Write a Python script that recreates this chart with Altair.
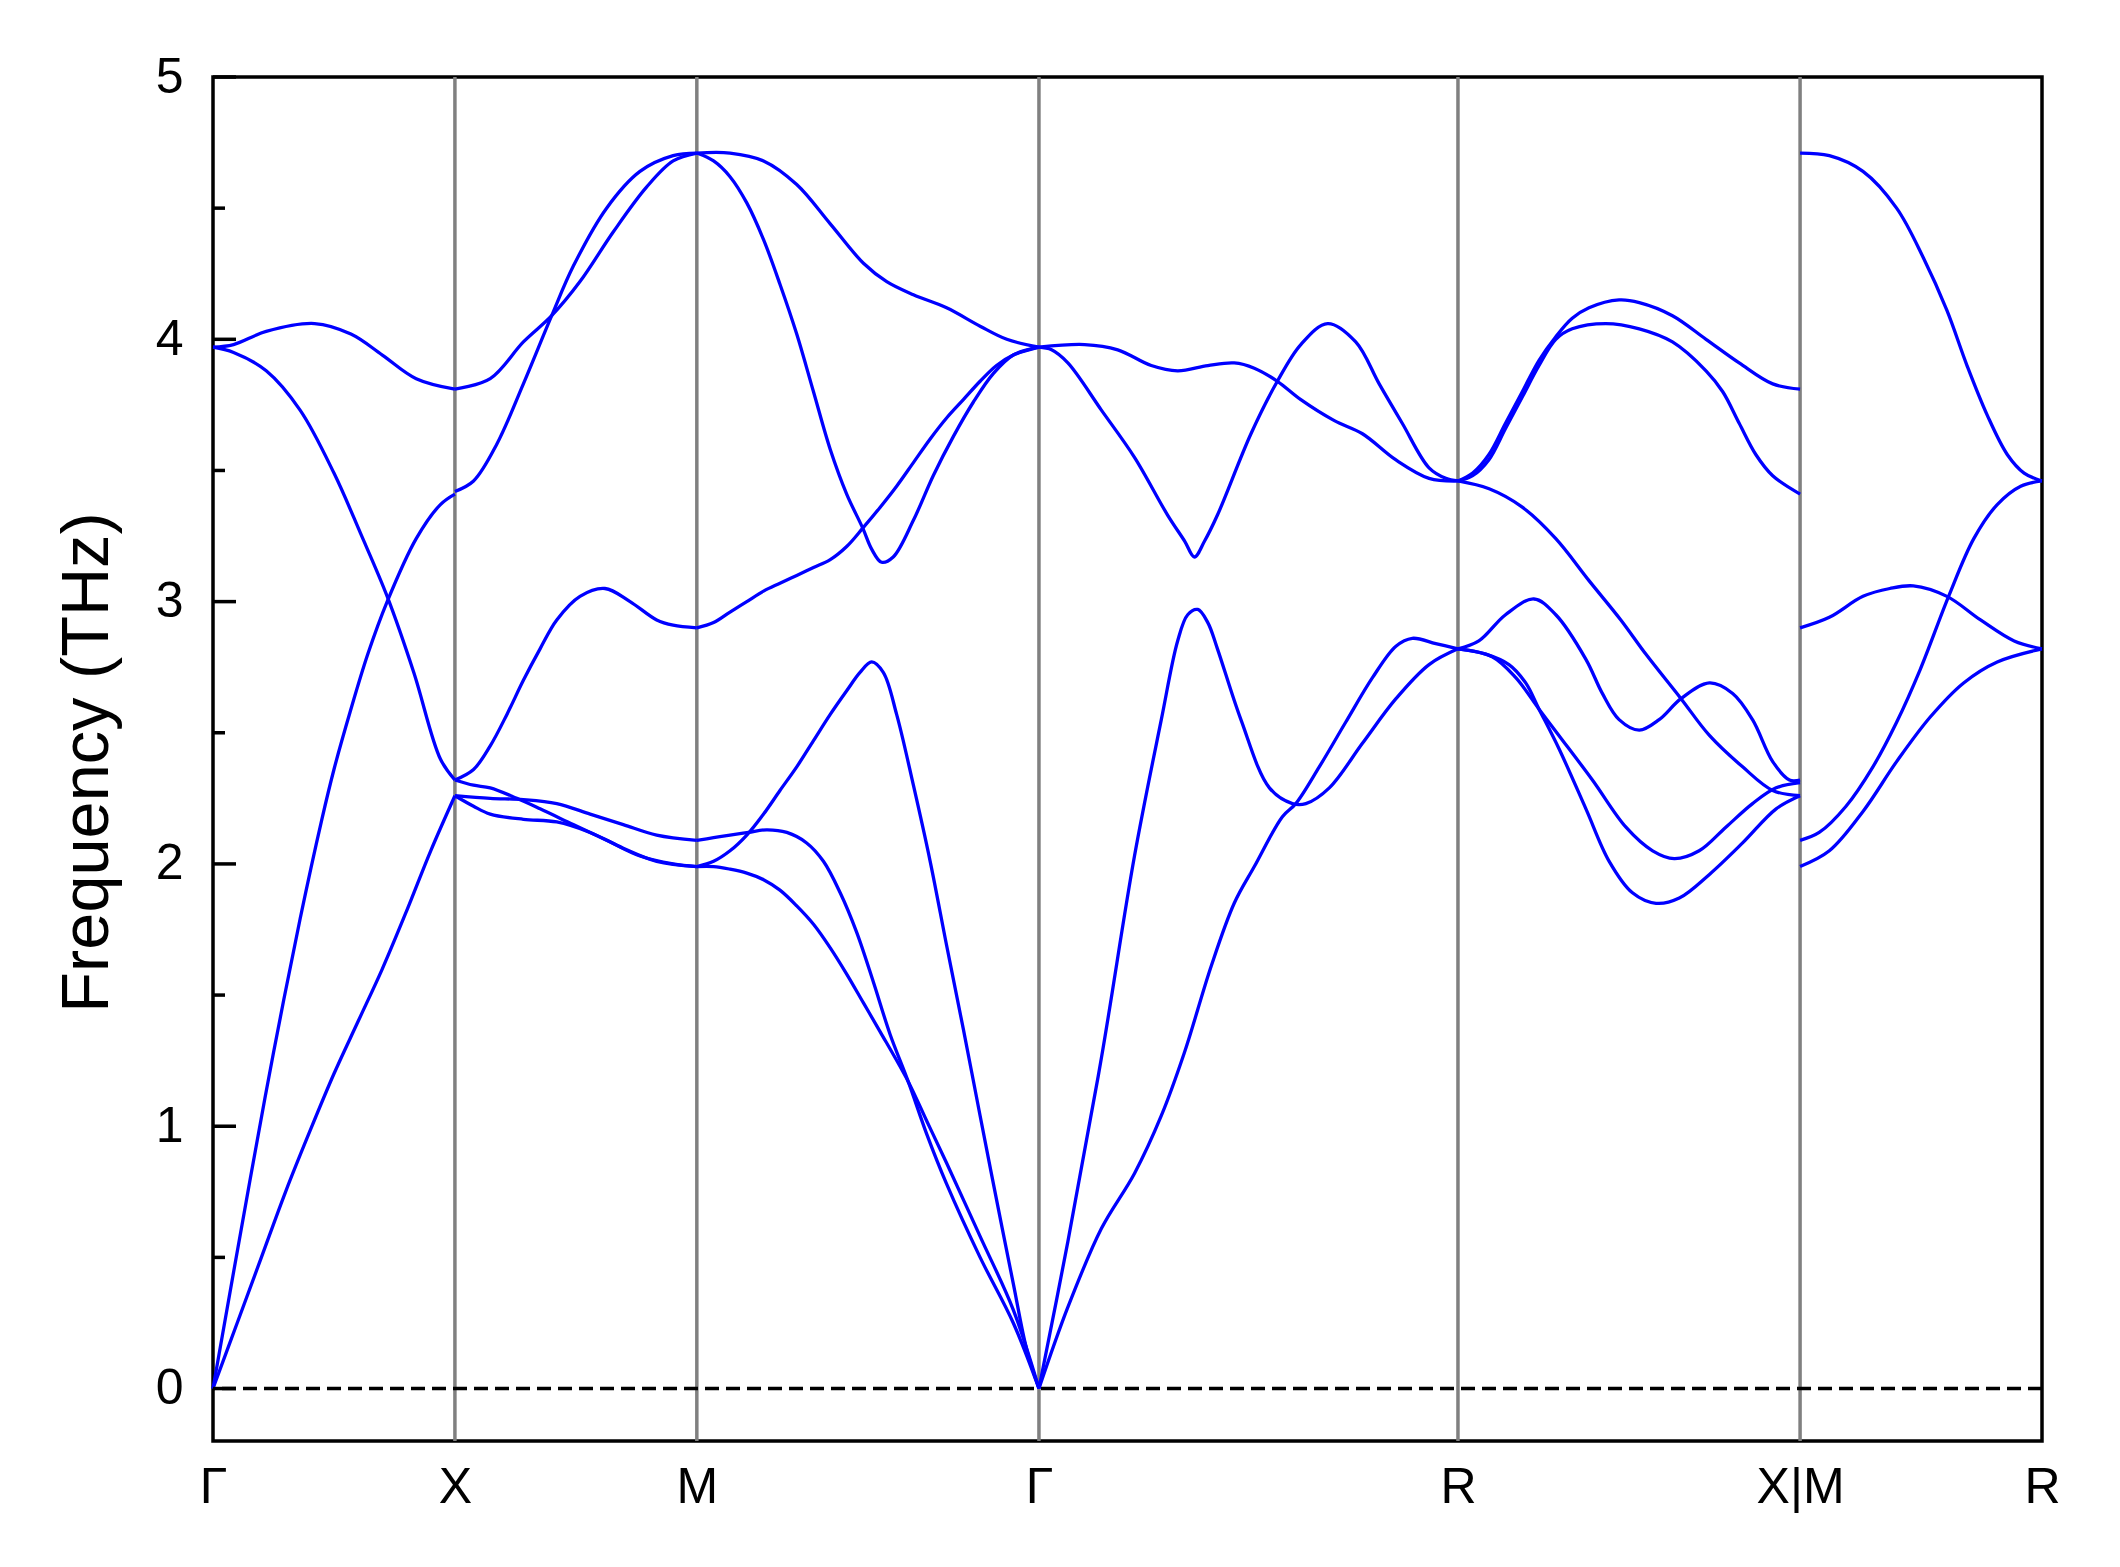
import numpy as np
import pandas as pd
import altair as alt

# ---- high-symmetry path ----
seg_names = ["GX", "XM", "MG", "GR", "RX", "MR"]
seg_lengths = [0.5, 0.5, np.sqrt(2) / 2, np.sqrt(3) / 2, np.sqrt(2) / 2, 0.5]
node_labels = ["Γ", "X", "M", "Γ", "R", "X|M", "R"]

# ---- bands: [fraction along segment, frequency THz] ----
GX_1 = [[0, 3.97], [0.085, 3.98], [0.22, 4.03], [0.42, 4.06], [0.57, 4.02], [0.70, 3.94], [0.84, 3.85], [1, 3.81]]
GX_2 = [[0, 3.97], [0.085, 3.95], [0.22, 3.88], [0.36, 3.73], [0.50, 3.49], [0.61, 3.26], [0.72, 3.02], [0.83, 2.73], [0.94, 2.40], [1, 2.32]]
GX_3 = [[0, 0], [0.154, 0.80], [0.25, 1.28], [0.36, 1.79], [0.45, 2.17], [0.50, 2.36], [0.567, 2.58], [0.64, 2.80], [0.72, 3.00], [0.84, 3.24], [0.94, 3.37], [1, 3.41]]
GX_4 = [[0, 0], [0.1, 0.25], [0.2, 0.5], [0.3, 0.75], [0.4, 0.98], [0.5, 1.2], [0.6, 1.4], [0.7, 1.6], [0.8, 1.82], [0.9, 2.05], [1, 2.26]]

XM_1 = [[0, 3.81], [0.146, 3.85], [0.283, 3.99], [0.40, 4.09], [0.517, 4.22], [0.655, 4.41], [0.792, 4.58], [0.902, 4.68], [1, 4.71]]
XM_2 = [[0, 3.42], [0.077, 3.46], [0.173, 3.60], [0.283, 3.83], [0.40, 4.09], [0.49, 4.28], [0.627, 4.50], [0.765, 4.64], [0.902, 4.70], [1, 4.71]]
XM_3 = [[0, 2.32], [0.077, 2.36], [0.146, 2.45], [0.215, 2.57], [0.283, 2.70], [0.352, 2.82], [0.421, 2.93], [0.517, 3.02], [0.62, 3.05], [0.724, 3.00], [0.834, 2.93], [0.902, 2.91], [1, 2.90]]
XM_4 = [[0, 2.32], [0.077, 2.30], [0.146, 2.29], [0.256, 2.25], [0.352, 2.21], [0.489, 2.15], [0.627, 2.09], [0.765, 2.03], [0.902, 2.00], [1, 1.99]]
XM_5 = [[0, 2.26], [0.146, 2.25], [0.283, 2.245], [0.421, 2.23], [0.559, 2.19], [0.696, 2.15], [0.834, 2.11], [1, 2.09]]
XM_6 = [[0, 2.26], [0.077, 2.22], [0.146, 2.19], [0.283, 2.17], [0.421, 2.16], [0.559, 2.12], [0.696, 2.06], [0.834, 2.01], [1, 1.99]]

MG_1 = [[0, 4.71], [0.097, 4.71], [0.195, 4.68], [0.292, 4.59], [0.39, 4.44], [0.487, 4.29], [0.555, 4.22], [0.633, 4.17], [0.73, 4.12], [0.828, 4.05], [0.906, 4.00], [1, 3.97]]
MG_2 = [[0, 4.71], [0.049, 4.68], [0.097, 4.62], [0.146, 4.52], [0.195, 4.38], [0.243, 4.21], [0.292, 4.02], [0.341, 3.80], [0.39, 3.58], [0.438, 3.41], [0.485, 3.28], [0.511, 3.20], [0.540, 3.15], [0.574, 3.17], [0.633, 3.31], [0.691, 3.48], [0.75, 3.63], [0.808, 3.76], [0.867, 3.87], [0.925, 3.94], [1, 3.97]]
MG_3 = [[0, 2.90], [0.049, 2.92], [0.097, 2.96], [0.146, 3.00], [0.195, 3.04], [0.243, 3.07], [0.292, 3.10], [0.341, 3.13], [0.39, 3.16], [0.438, 3.21], [0.485, 3.28], [0.536, 3.36], [0.584, 3.44], [0.633, 3.53], [0.682, 3.62], [0.73, 3.70], [0.779, 3.77], [0.828, 3.84], [0.876, 3.90], [0.925, 3.94], [1, 3.97]]
MG_4 = [[0, 1.99], [0.049, 2.01], [0.097, 2.05], [0.146, 2.11], [0.195, 2.19], [0.243, 2.28], [0.292, 2.37], [0.341, 2.47], [0.39, 2.57], [0.438, 2.66], [0.477, 2.73], [0.511, 2.77], [0.545, 2.73], [0.584, 2.57], [0.633, 2.30], [0.682, 2.01], [0.73, 1.69], [0.779, 1.37], [0.828, 1.04], [0.876, 0.72], [0.925, 0.40], [0.964, 0.15], [1, 0]]
MG_5 = [[0, 2.09], [0.049, 2.10], [0.097, 2.11], [0.151, 2.12], [0.204, 2.13], [0.263, 2.12], [0.321, 2.08], [0.37, 2.01], [0.419, 1.89], [0.467, 1.74], [0.516, 1.55], [0.565, 1.35], [0.618, 1.17], [0.672, 0.97], [0.73, 0.78], [0.828, 0.50], [0.925, 0.25], [1, 0]]
MG_6 = [[0, 1.99], [0.049, 1.99], [0.097, 1.98], [0.146, 1.965], [0.195, 1.94], [0.243, 1.90], [0.292, 1.84], [0.341, 1.77], [0.39, 1.68], [0.438, 1.58], [0.487, 1.47], [0.536, 1.36], [0.618, 1.17], [0.672, 1.02], [0.73, 0.86], [0.828, 0.58], [0.925, 0.30], [1, 0]]

GR_1 = [[0, 3.97], [0.109, 3.98], [0.188, 3.96], [0.268, 3.90], [0.331, 3.88], [0.403, 3.90], [0.466, 3.91], [0.514, 3.89], [0.569, 3.84], [0.625, 3.77], [0.705, 3.69], [0.772, 3.64], [0.852, 3.54], [0.931, 3.47], [1, 3.46]]
GR_2 = [[0, 3.97], [0.03, 3.96], [0.069, 3.91], [0.149, 3.73], [0.228, 3.55], [0.307, 3.33], [0.348, 3.23], [0.371, 3.17], [0.395, 3.23], [0.426, 3.33], [0.506, 3.64], [0.569, 3.84], [0.625, 3.98], [0.689, 4.06], [0.756, 3.99], [0.812, 3.83], [0.867, 3.68], [0.931, 3.51], [0.971, 3.47], [1, 3.46]]
GR_3 = [[0, 0], [0.069, 0.56], [0.149, 1.26], [0.228, 2.03], [0.292, 2.55], [0.331, 2.85], [0.355, 2.95], [0.379, 2.97], [0.403, 2.92], [0.426, 2.82], [0.482, 2.55], [0.55, 2.29], [0.605, 2.23], [0.637, 2.23], [0.693, 2.29], [0.772, 2.46], [0.852, 2.63], [0.931, 2.76], [1, 2.82]]
GR_4 = [[0, 0], [0.069, 0.31], [0.149, 0.61], [0.228, 0.82], [0.292, 1.04], [0.347, 1.28], [0.411, 1.61], [0.466, 1.85], [0.514, 1.99], [0.581, 2.18], [0.613, 2.23], [0.669, 2.37], [0.732, 2.54], [0.796, 2.71], [0.852, 2.83], [0.891, 2.86], [0.947, 2.84], [1, 2.82]]

RX_1 = [[0, 3.46], [0.043, 3.49], [0.09, 3.56], [0.139, 3.68], [0.188, 3.80], [0.237, 3.92], [0.286, 4.01], [0.334, 4.08], [0.383, 4.12], [0.471, 4.15], [0.53, 4.14], [0.627, 4.09], [0.725, 4.00], [0.822, 3.91], [0.92, 3.83], [1, 3.81]]
RX_2 = [[0, 3.46], [0.043, 3.48], [0.09, 3.54], [0.139, 3.66], [0.188, 3.78], [0.237, 3.90], [0.286, 4.00], [0.334, 4.04], [0.432, 4.06], [0.53, 4.04], [0.627, 3.99], [0.725, 3.88], [0.774, 3.80], [0.822, 3.68], [0.871, 3.56], [0.92, 3.48], [1, 3.41]]
RX_3 = [[0, 3.46], [0.091, 3.43], [0.188, 3.36], [0.286, 3.24], [0.383, 3.08], [0.476, 2.93], [0.549, 2.80], [0.652, 2.63], [0.735, 2.49], [0.832, 2.37], [0.92, 2.28], [1, 2.26]]
RX_4 = [[0, 2.82], [0.061, 2.85], [0.139, 2.95], [0.222, 3.01], [0.286, 2.95], [0.374, 2.78], [0.422, 2.65], [0.471, 2.55], [0.53, 2.51], [0.588, 2.55], [0.652, 2.63], [0.735, 2.69], [0.803, 2.65], [0.861, 2.55], [0.92, 2.39], [0.969, 2.32], [1, 2.32]]
RX_5 = [[0, 2.82], [0.081, 2.80], [0.149, 2.76], [0.198, 2.69], [0.237, 2.59], [0.295, 2.44], [0.374, 2.21], [0.442, 2.01], [0.51, 1.89], [0.579, 1.85], [0.647, 1.87], [0.735, 1.96], [0.832, 2.08], [0.93, 2.21], [1, 2.26]]
RX_6 = [[0, 2.82], [0.1, 2.79], [0.169, 2.71], [0.237, 2.59], [0.295, 2.49], [0.393, 2.32], [0.491, 2.14], [0.569, 2.05], [0.632, 2.02], [0.705, 2.05], [0.783, 2.14], [0.861, 2.23], [0.93, 2.29], [1, 2.31]]

MR_1 = [[0, 4.71], [0.121, 4.70], [0.26, 4.64], [0.399, 4.50], [0.51, 4.31], [0.607, 4.11], [0.69, 3.90], [0.774, 3.71], [0.857, 3.56], [0.926, 3.49], [1, 3.46]]
MR_2 = [[0, 2.90], [0.121, 2.94], [0.26, 3.02], [0.371, 3.05], [0.468, 3.06], [0.607, 3.02], [0.746, 2.93], [0.885, 2.85], [1, 2.82]]
MR_3 = [[0, 2.09], [0.079, 2.12], [0.19, 2.22], [0.301, 2.37], [0.399, 2.54], [0.496, 2.74], [0.614, 3.02], [0.718, 3.24], [0.815, 3.37], [0.912, 3.44], [1, 3.46]]
MR_4 = [[0, 1.99], [0.121, 2.05], [0.26, 2.20], [0.399, 2.39], [0.538, 2.56], [0.676, 2.69], [0.815, 2.77], [1, 2.82]]

segment_bands = {
    "GX": [GX_1, GX_2, GX_3, GX_4],
    "XM": [XM_1, XM_2, XM_3, XM_4, XM_5, XM_6],
    "MG": [MG_1, MG_2, MG_3, MG_4, MG_5, MG_6],
    "GR": [GR_1, GR_2, GR_3, GR_4],
    "RX": [RX_1, RX_2, RX_3, RX_4, RX_5, RX_6],
    "MR": [MR_1, MR_2, MR_3, MR_4],
}

y_major = [0, 1, 2, 3, 4, 5]
y_minor = [0.5, 1.5, 2.5, 3.5, 4.5]

# ---- build tables ----
cum = [0.0] + [float(v) for v in np.cumsum(seg_lengths)]
node_pos = cum[:]
seg_start = dict(zip(seg_names, cum[:-1]))
seg_len = dict(zip(seg_names, seg_lengths))
total = cum[-1]

rows = []
for s in seg_names:
    for bi, band in enumerate(segment_bands[s]):
        for t, f in band:
            rows.append({"k": seg_start[s] + t * seg_len[s], "f": f, "g": f"{s}_{bi}"})
df = pd.DataFrame(rows)
inner_nodes = pd.DataFrame({"k": node_pos[1:-1]})

expr = "''"
for p, lab in reversed(list(zip(node_pos, node_labels))):
    expr = f"abs(datum.value - {p:.6f}) < 0.01 ? '{lab}' : ({expr})"

FONT = "Liberation Sans"
xs = alt.Scale(domain=[0, total], nice=False, zero=False)
ys = alt.Scale(domain=[-0.2, 5], nice=False, zero=False)

xaxis = alt.Axis(values=node_pos, labelExpr=expr, title=None, ticks=False, domain=False, grid=False,
                 labelFontSize=50, labelFont=FONT, labelColor="black", labelPadding=21,
                 labelOverlap=False, labelFlush=False, labelBaseline="top")
yaxis = alt.Axis(values=y_major, title="Frequency (THz)", ticks=False, domain=False, grid=False,
                 labelFontSize=50, labelFont=FONT, labelColor="black", labelPadding=30,
                 titleFontSize=66.7, titleFont=FONT, titleFontWeight="normal", titleColor="black",
                 titleAngle=270, titleX=-126, titleY=685, titleAlign="center", titleBaseline="middle",
                 format="d")

vlines = alt.Chart(inner_nodes).mark_rule(color="#808080", strokeWidth=3.5).encode(
    x=alt.X("k:Q", scale=xs, axis=xaxis))
zero = alt.Chart(pd.DataFrame({"y": [0]})).mark_rule(color="black", strokeWidth=3.5, strokeDash=[14, 7]).encode(
    y=alt.Y("y:Q", scale=ys, axis=yaxis))
bands = alt.Chart(df).mark_line(color="#0000ff", strokeWidth=3.3, interpolate="catmull-rom").encode(
    x=alt.X("k:Q", scale=xs, axis=xaxis),
    y=alt.Y("f:Q", scale=ys, axis=yaxis),
    detail="g:N")
tmaj = alt.Chart(pd.DataFrame({"y": y_major})).mark_rule(color="black", strokeWidth=3.5).encode(
    y=alt.Y("y:Q", scale=ys, axis=yaxis), x=alt.value(0), x2=alt.value(23))
tmin = alt.Chart(pd.DataFrame({"y": y_minor})).mark_rule(color="black", strokeWidth=3.5).encode(
    y=alt.Y("y:Q", scale=ys, axis=yaxis), x=alt.value(0), x2=alt.value(12))

chart = alt.layer(vlines, zero, bands, tmaj, tmin).properties(
    width=1829, height=1364,
    padding={"left": 205, "top": 69, "right": 60, "bottom": 106},
    autosize=alt.AutoSizeParams(type="none"),
    background="white",
).configure_view(stroke="black", strokeWidth=3.5)

chart.save("out.html", embed_options={"renderer": "svg", "actions": False})
